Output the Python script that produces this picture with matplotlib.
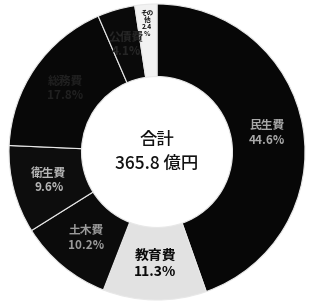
import matplotlib
matplotlib.use("Agg")
import matplotlib.pyplot as plt
import numpy as np

plt.rcParams['font.family'] = ['Noto Sans CJK JP', 'DejaVu Sans']

# 歳出の内訳（時計回り、12時から）
names = ["民生費", "教育費", "土木費", "衛生費", "総務費", "公債費", "その他"]
shares = [44.6, 11.3, 10.2, 9.6, 17.8, 4.1, 2.4]
total_label = "合計\n365.8 億円"

colors = ["#070707", "#e2e2e2", "#0b0b0b", "#0d0d0d", "#080808", "#0a0a0a", "#f2f2f2"]
text_colors = ["#a8a8a8", "#0a0a0a", "#9a9a9a", "#b5b5b5", "#202020", "#262626", "#111111"]

fig = plt.figure(figsize=(3.09, 3.04), dpi=100)
ax = fig.add_axes([0, 0, 1, 1])

wedges, _ = ax.pie(shares, colors=colors, startangle=90, counterclock=False,
                   radius=1.0, wedgeprops=dict(width=0.49, edgecolor="#e8e8e8", linewidth=0.8))

# labels inside each slice
cum = np.cumsum([0] + shares[:-1])
for i, (n, s) in enumerate(zip(names, shares)):
    mid = np.deg2rad(90 - (cum[i] + s / 2) * 3.6)
    r = 0.755
    x, y = r * np.cos(mid), r * np.sin(mid)
    if n == "その他":
        ax.text(x - 0.01, y + 0.12, "その\n他\n%.1f\n%%" % s, ha="center", va="center",
                fontsize=4.8, fontweight="bold", color=text_colors[i], linespacing=1.0)
        continue
    ax.text(x, y, "%s\n%.1f%%" % (n, s), ha="center", va="center",
            fontsize=10 if n == "教育費" else 8.5, fontweight="bold",
            color=text_colors[i], linespacing=1.15)

ax.text(0.0, 0.0, total_label, ha="center", va="center", fontsize=12.5,
        fontweight="medium", color="#111111", linespacing=1.45)

ax.set_xlim(-157 / 148, 152 / 148)
ax.set_ylim(-152 / 148, 152 / 148)
ax.set_aspect("auto")
ax.axis("off")

fig.savefig("out.png", dpi=100, facecolor="white")
